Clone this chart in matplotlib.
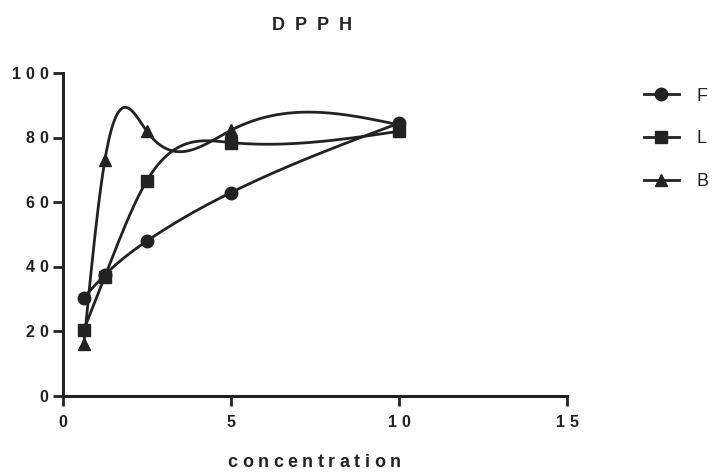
import numpy as np
import matplotlib
matplotlib.use("Agg")
import matplotlib.pyplot as plt
from matplotlib.transforms import offset_copy, blended_transform_factory

plt.rcParams['font.family'] = ['Liberation Sans', 'DejaVu Sans']

# concentrations and % scavenging for each extract
conc = [0.625, 1.25, 2.5, 5, 10]
F = [30.5, 37.5, 48, 63, 84.5]
L = [20.5, 37, 66.7, 78.5, 82]
B = [16, 73, 82, 82.3, 84]
names = ['F', 'L', 'B']
markers = ['o', 's', '^']
xticks = [0, 5, 10, 15]
yticks = [0, 20, 40, 60, 80, 100]

ink = '#222222'


# natural cubic spline through the points
def natural_spline(x, y, xs):
    x = np.asarray(x, float)
    y = np.asarray(y, float)
    n = len(x)
    h = np.diff(x)
    A = np.zeros((n, n))
    rhs = np.zeros(n)
    A[0, 0] = 1
    A[-1, -1] = 1
    for i in range(1, n - 1):
        A[i, i - 1] = h[i - 1]
        A[i, i] = 2 * (h[i - 1] + h[i])
        A[i, i + 1] = h[i]
        rhs[i] = 6 * ((y[i + 1] - y[i]) / h[i] - (y[i] - y[i - 1]) / h[i - 1])
    M = np.linalg.solve(A, rhs)
    out = np.empty_like(xs)
    for k, t in enumerate(xs):
        i = min(max(np.searchsorted(x, t) - 1, 0), n - 2)
        a = x[i + 1] - t
        b = t - x[i]
        out[k] = (M[i] * a**3 + M[i + 1] * b**3) / (6 * h[i]) \
            + (y[i] / h[i] - M[i] * h[i] / 6) * a \
            + (y[i + 1] / h[i] - M[i + 1] * h[i] / 6) * b
    return out


fig = plt.figure(figsize=(7.14, 4.72), dpi=100)
ax = fig.add_axes([0.088, 0.161, 0.706, 0.684])
renderer = fig.canvas.get_renderer()


# text with extra letter spacing (track in pixels), placed char by char
def tracked(x, y, s, transform, track, ha='center', ox=0, oy=0, **kw):
    widths = []
    for ch in s:
        t = fig.text(0, 0, ch, **kw)
        widths.append(t.get_window_extent(renderer).width)
        t.remove()
    total = sum(widths) + track * (len(s) - 1)
    dx = {'left': 0, 'center': -total / 2, 'right': -total}[ha] + ox
    for ch, w in zip(s, widths):
        tr = offset_copy(transform, fig=fig, x=dx, y=oy, units='dots')
        fig.text(x, y, ch, transform=tr, ha='left', va='baseline', **kw)
        dx += w + track


xs = np.linspace(conc[0], conc[-1], 400)
for ys, nm, mk in zip([F, L, B], names, markers):
    ax.plot(xs, natural_spline(conc, ys, xs), color=ink, lw=2)
    ax.plot(conc, ys, linestyle='none', marker=mk, ms=9, color=ink)
    # legend handle: line with marker
    ax.plot([], [], color=ink, lw=2, marker=mk, ms=9, label=nm)

ax.set_xlim(0, 15)
ax.set_ylim(0, 100)
ax.set_xticks(xticks)
ax.set_yticks(yticks)
for s in ['top', 'right']:
    ax.spines[s].set_visible(False)
for s in ['left', 'bottom']:
    ax.spines[s].set_linewidth(2.2)
    ax.spines[s].set_color(ink)
ax.tick_params(width=2, length=7, color=ink, labelleft=False, labelbottom=False)

lab_kw = dict(fontsize=11.5, fontweight='bold', color=ink)
ytr = blended_transform_factory(ax.transAxes, ax.transData)
for v in yticks:
    tracked(0, v, str(v), ytr, 4.3, ha='right', ox=-15, oy=-5.5, **lab_kw)
xtr = blended_transform_factory(ax.transData, ax.transAxes)
for v in xticks:
    tracked(v, 0, str(v), xtr, 4.3, ha='center', oy=-31, **lab_kw)

tracked(314 / 714, 5 / 472, 'concentration', fig.transFigure, 4.5,
        fontsize=13, fontweight='bold', color=ink)
tracked(312 / 714, 1 - 30.5 / 472, 'DPPH', fig.transFigure, 10,
        fontsize=13, fontweight='bold', color=ink)

leg = ax.legend(loc='upper left', bbox_to_anchor=(1.12, 1.005), frameon=False,
                fontsize=13, handlelength=1.95, labelspacing=1.42, handletextpad=1.0)
for t in leg.get_texts():
    t.set_color(ink)

fig.savefig('out.png', dpi=100)
